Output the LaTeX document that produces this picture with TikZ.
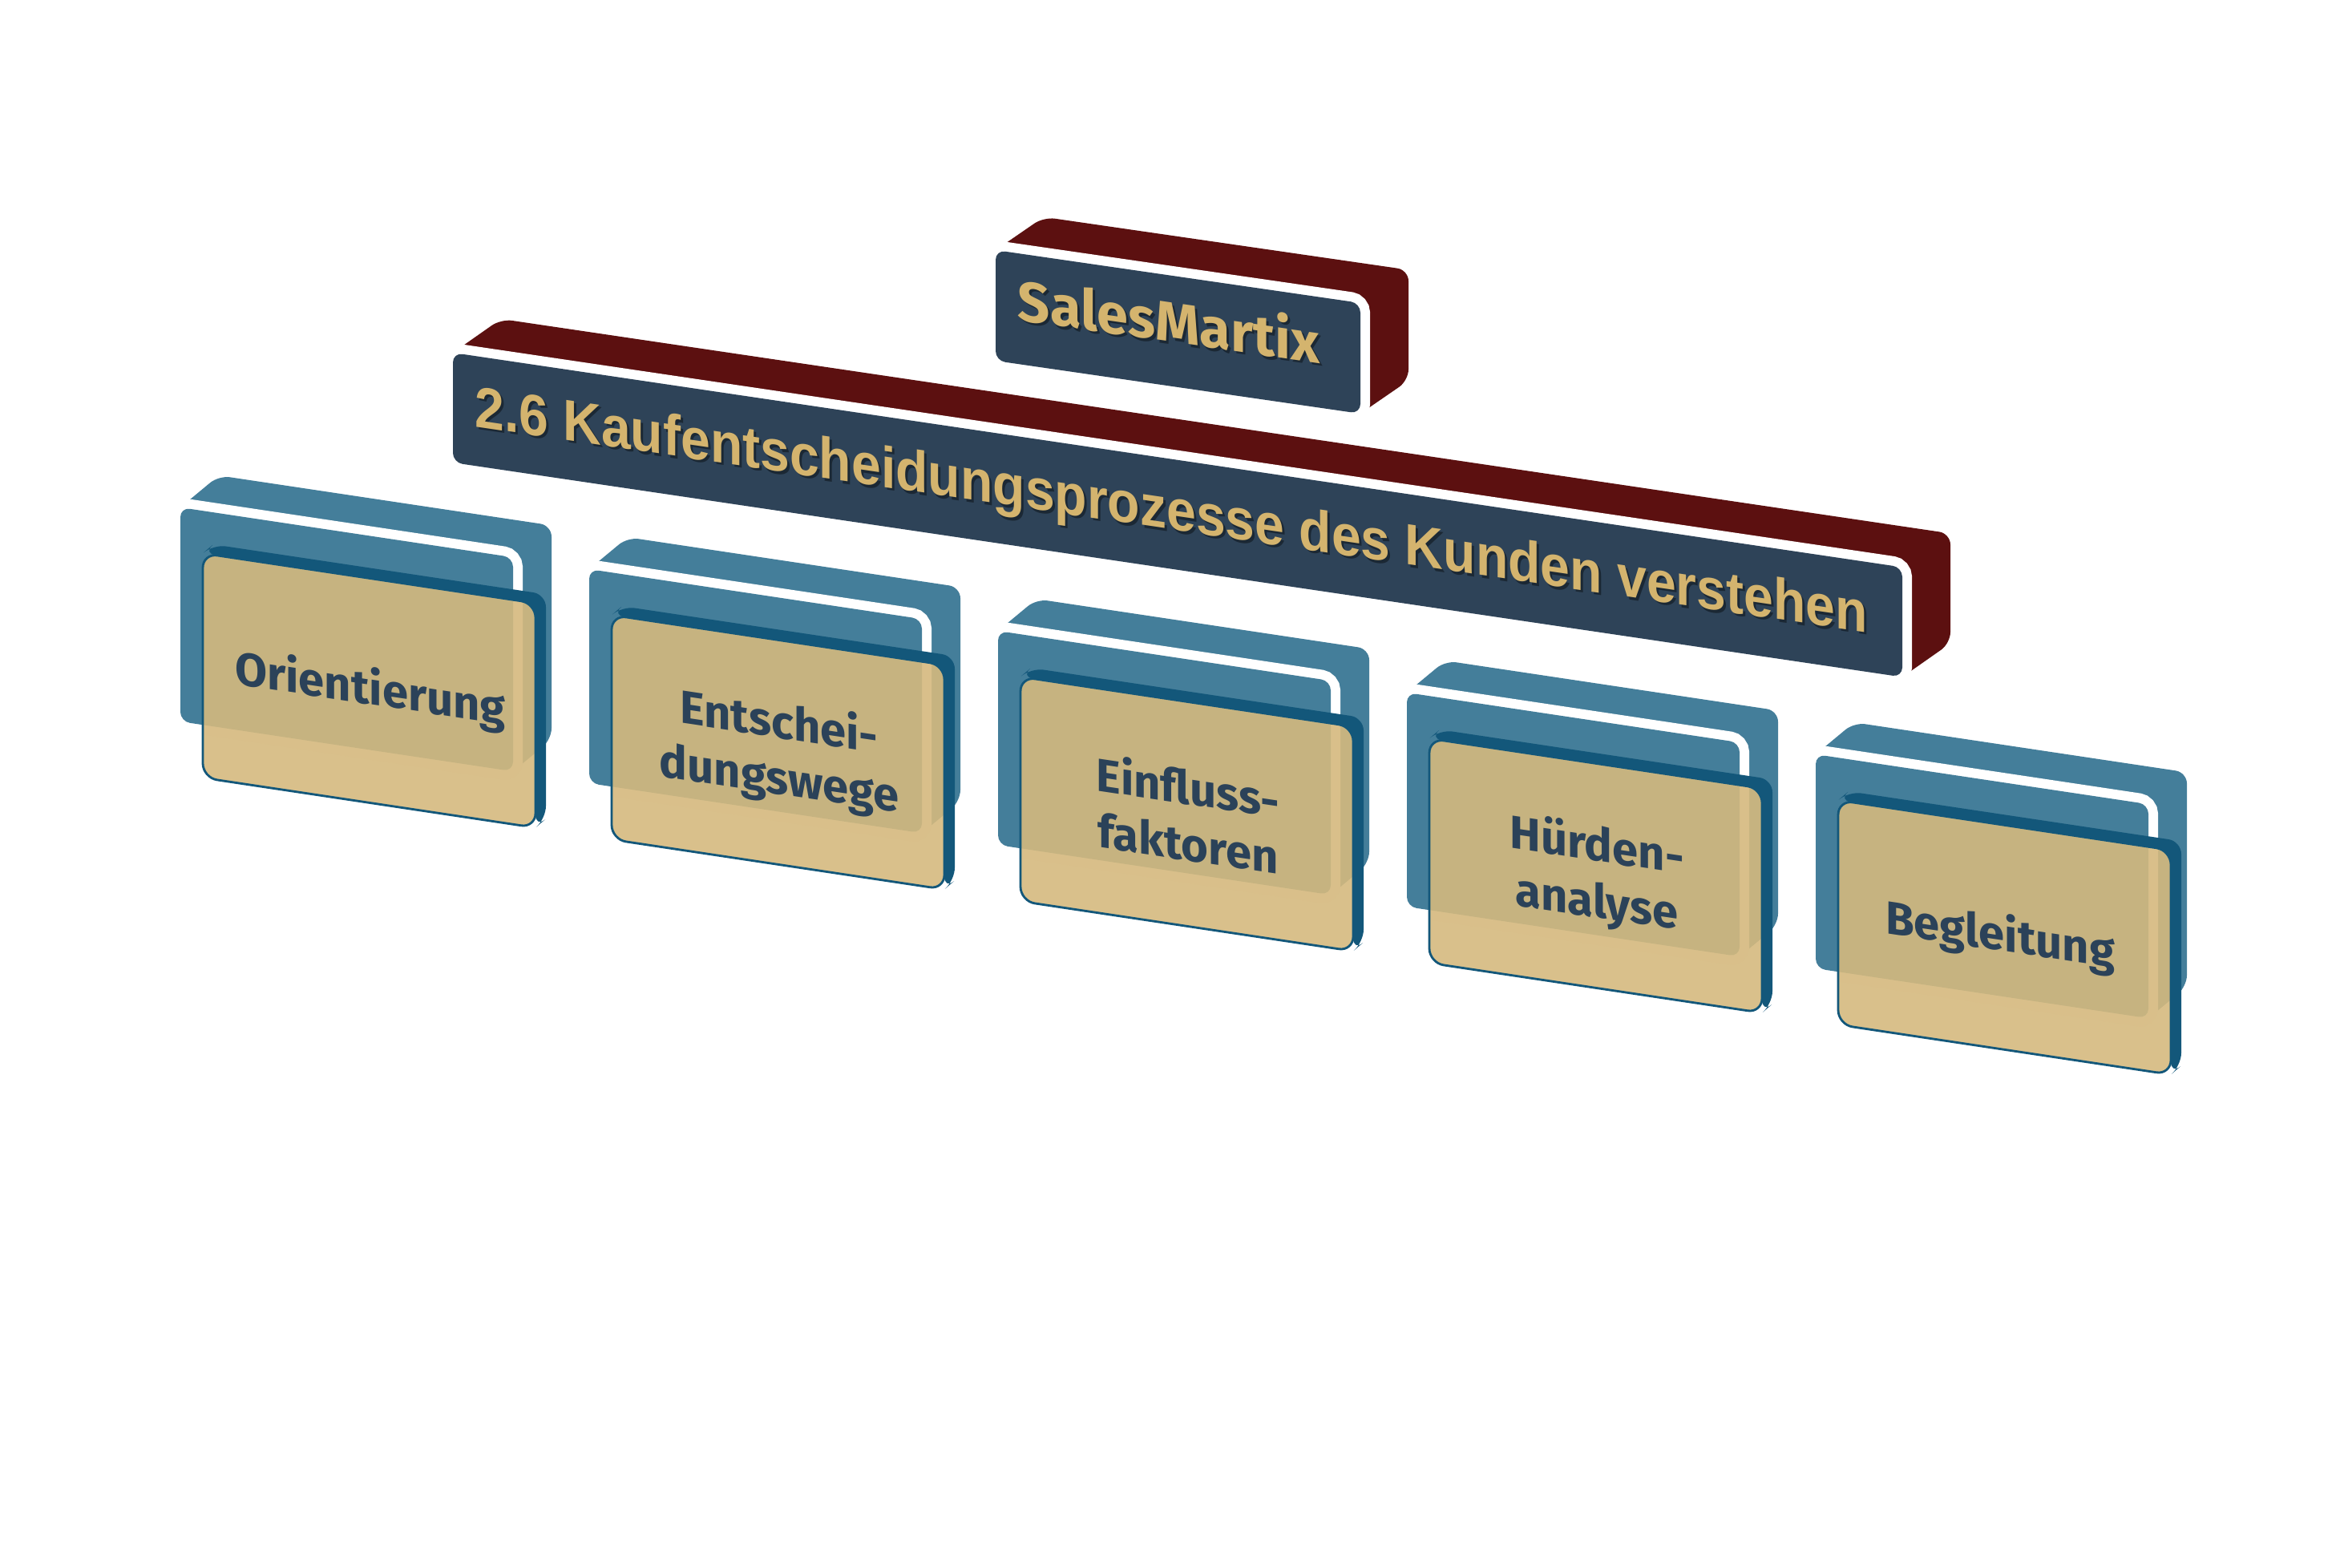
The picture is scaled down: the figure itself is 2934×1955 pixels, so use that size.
\documentclass[tikz,border=0pt]{standalone}
\usepackage{fontspec}
\setmainfont{Liberation Sans}
\newfontfamily\cardfont{Fira Sans}
\newfontfamily\barfont[FakeStretch=0.913]{Liberation Sans}
\usetikzlibrary{positioning}

\definecolor{navy}{HTML}{2E4358}
\definecolor{wine}{HTML}{5C1010}
\definecolor{gold}{HTML}{D4B46E}
\definecolor{steel}{HTML}{447E9A}
\definecolor{sand}{HTML}{D5B97E}
\definecolor{deepblue}{HTML}{13577A}
\definecolor{ink}{HTML}{2B4259}

% block: front face #1 x #2, depth (#3,#4), side colour #5, face colour #6
\newcommand\drawslab[6]{%
  \fill[#5, rounded corners=1.4mm] (0,0) -- (#3,#4) -- (#1+#3,#4)
    -- (#1+#3,#2+#4) -- (#1,#2) -- (#1,0) -- cycle;
  \fill[#6, rounded corners=1.2mm, preaction={draw=white, line width=2.4mm}]
    (0,0) rectangle (#1,#2);
}

\def\cardstep{510}   % horizontal distance between cards
\def\cardrise{77}    % cards drop a bit to the right

\begin{document}
\begin{tikzpicture}[x=0.1mm, y=-0.1mm,
    titletext/.style  = {transform shape, anchor=base, text=gold},
    titleshade/.style = {transform shape, anchor=base, text=black, opacity=0.4},
    brandfont/.style  = {font=\cardfont\bfseries\fontsize{20}{24}\selectfont},
    topicfont/.style  = {font=\barfont\bfseries\fontsize{20.6}{24}\selectfont},
    cardtext/.style   = {transform shape, align=center, text=ink,
                         font=\cardfont\bfseries\fontsize{16.5}{20}\selectfont}]
  \useasboundingbox (0,0) rectangle (2934,1955);

  % SalesMartix block
  \begin{scope}[shift={(1242,312)}, yslant=-0.145]
    \drawslab{455}{138}{60}{-50}{wine}{navy}
    \node[titleshade, brandfont] (brand-shade) at (219,86) {SalesMartix};
    \node[titletext, brandfont] (brand) at (216,83) {SalesMartix};
  \end{scope}

  % topic bar
  \begin{scope}[shift={(565,440)}, yslant=-0.148]
    \drawslab{1808}{137}{60}{-51}{wine}{navy}
    \node[titleshade, topicfont] (topic-shade) at (899,91)
      {2.6 Kaufentscheidungsprozesse des Kunden verstehen};
    \node[titletext, topicfont] (topic) at (896,88)
      {2.6 Kaufentscheidungsprozesse des Kunden verstehen};
  \end{scope}

  % the five cards
  \foreach \name [count=\i from 0] in {
      Orientierung,
      {Entschei-\\dungswege},
      {Einfluss-\\faktoren},
      {Hürden-\\analyse},
      Begleitung
    } {
    \begin{scope}[shift={(225+\cardstep*\i,633+\cardrise*\i)}, yslant=-0.15]
      \drawslab{415}{267}{48}{-47}{steel}{steel}   % blue block behind
      \begin{scope}[shift={(28,53)}]                % sand card in front
        \fill[deepblue, rounded corners=1.6mm] (0,0) -- (13,-13) -- (428,-13)
          -- (428,267) -- (415,280) -- (415,0) -- cycle;
        \filldraw[fill=sand, fill opacity=0.9, draw=deepblue, line width=0.8pt,
          rounded corners=1.8mm] (0,0) rectangle (415,280);
        \node[cardtext] (card\i) at (209,140) {\name};
      \end{scope}
    \end{scope}
  }
\end{tikzpicture}
\end{document}
